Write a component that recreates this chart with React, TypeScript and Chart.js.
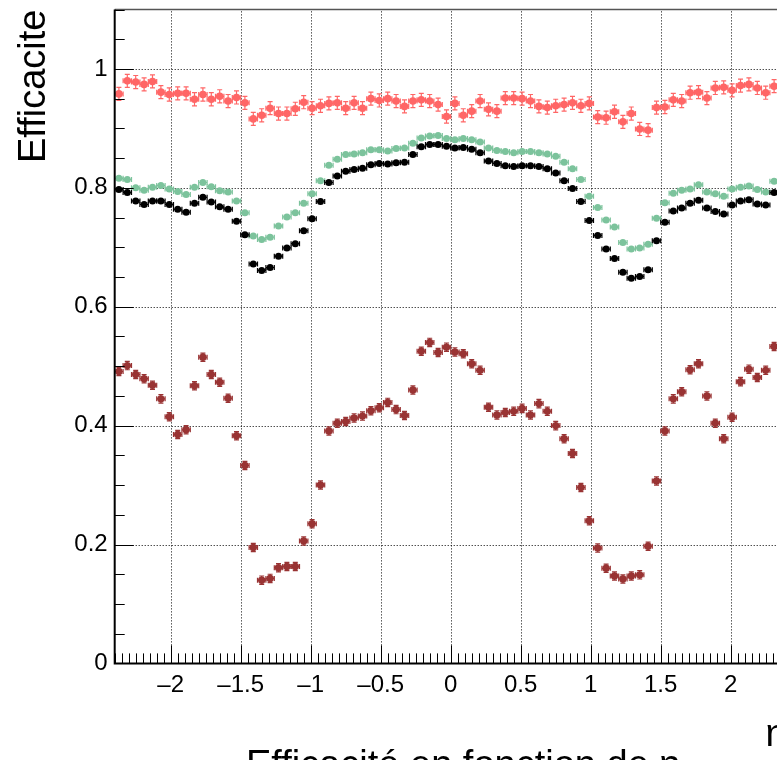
import React, { useEffect, useRef } from 'react';
import { Chart, registerables } from 'chart.js';

Chart.register(...registerables);

// ---------------- data ----------------
const etaBins = [
  -2.37, -2.31, -2.25, -2.19, -2.13, -2.07, -2.01, -1.95, -1.89, -1.83,
  -1.77, -1.71, -1.65, -1.59, -1.53, -1.47, -1.41, -1.35, -1.29, -1.23,
  -1.17, -1.11, -1.05, -0.99, -0.93, -0.87, -0.81, -0.75, -0.69, -0.63,
  -0.57, -0.51, -0.45, -0.39, -0.33, -0.27, -0.21, -0.15, -0.09, -0.03,
  0.03, 0.09, 0.15, 0.21, 0.27, 0.33, 0.39, 0.45, 0.51, 0.57,
  0.63, 0.69, 0.75, 0.81, 0.87, 0.93, 0.99, 1.05, 1.11, 1.17,
  1.23, 1.29, 1.35, 1.41, 1.47, 1.53, 1.59, 1.65, 1.71, 1.77,
  1.83, 1.89, 1.95, 2.01, 2.07, 2.13, 2.19, 2.25, 2.31, 2.37,
];
const binHalfWidth = 0.03;

const effRed = [
  0.958, 0.980, 0.978, 0.974, 0.979, 0.961, 0.957, 0.959, 0.959, 0.949,
  0.957, 0.949, 0.954, 0.946, 0.952, 0.943, 0.916, 0.922, 0.934, 0.925,
  0.925, 0.933, 0.944, 0.934, 0.938, 0.942, 0.943, 0.934, 0.943, 0.934,
  0.950, 0.947, 0.950, 0.946, 0.937, 0.946, 0.948, 0.946, 0.940, 0.920,
  0.942, 0.922, 0.929, 0.946, 0.932, 0.929, 0.951, 0.951, 0.950, 0.946,
  0.937, 0.935, 0.938, 0.940, 0.943, 0.938, 0.942, 0.919, 0.918, 0.928,
  0.911, 0.925, 0.899, 0.897, 0.935, 0.936, 0.948, 0.946, 0.960, 0.961,
  0.951, 0.968, 0.969, 0.964, 0.972, 0.974, 0.968, 0.960, 0.971, 0.966,
];
const effGreen = [
  0.816, 0.814, 0.800, 0.796, 0.801, 0.804, 0.798, 0.794, 0.789, 0.801,
  0.809, 0.802, 0.795, 0.793, 0.778, 0.758, 0.719, 0.713, 0.717, 0.736,
  0.751, 0.758, 0.774, 0.790, 0.812, 0.838, 0.848, 0.856, 0.857, 0.859,
  0.864, 0.864, 0.862, 0.866, 0.867, 0.875, 0.884, 0.887, 0.888, 0.883,
  0.881, 0.883, 0.881, 0.877, 0.867, 0.863, 0.861, 0.859, 0.861, 0.861,
  0.859, 0.857, 0.853, 0.843, 0.832, 0.814, 0.786, 0.767, 0.746, 0.734,
  0.708, 0.697, 0.699, 0.705, 0.749, 0.775, 0.791, 0.796, 0.798, 0.805,
  0.793, 0.790, 0.786, 0.798, 0.801, 0.803, 0.797, 0.793, 0.811, 0.810,
];
const effBlack = [
  0.797, 0.792, 0.778, 0.772, 0.778, 0.778, 0.772, 0.764, 0.759, 0.774,
  0.784, 0.776, 0.768, 0.764, 0.744, 0.721, 0.672, 0.661, 0.666, 0.685,
  0.699, 0.706, 0.728, 0.748, 0.777, 0.809, 0.820, 0.828, 0.831, 0.833,
  0.839, 0.841, 0.840, 0.842, 0.843, 0.856, 0.869, 0.873, 0.873, 0.870,
  0.867, 0.868, 0.865, 0.859, 0.845, 0.841, 0.837, 0.836, 0.837, 0.837,
  0.836, 0.832, 0.825, 0.812, 0.799, 0.777, 0.745, 0.720, 0.697, 0.681,
  0.658, 0.648, 0.651, 0.662, 0.711, 0.742, 0.761, 0.766, 0.774, 0.779,
  0.766, 0.760, 0.756, 0.771, 0.778, 0.780, 0.773, 0.771, 0.792, 0.790,
];
const effDarkRed = [
  0.491, 0.501, 0.486, 0.479, 0.468, 0.445, 0.415, 0.385, 0.393, 0.467,
  0.515, 0.486, 0.473, 0.446, 0.383, 0.333, 0.195, 0.140, 0.143, 0.161,
  0.163, 0.163, 0.206, 0.235, 0.300, 0.391, 0.404, 0.407, 0.413, 0.416,
  0.425, 0.430, 0.439, 0.427, 0.417, 0.460, 0.525, 0.540, 0.523, 0.532,
  0.524, 0.521, 0.504, 0.493, 0.431, 0.418, 0.422, 0.424, 0.429, 0.418,
  0.437, 0.424, 0.400, 0.378, 0.353, 0.296, 0.240, 0.194, 0.160, 0.147,
  0.142, 0.147, 0.149, 0.197, 0.307, 0.391, 0.445, 0.457, 0.494, 0.504,
  0.450, 0.404, 0.378, 0.414, 0.474, 0.495, 0.481, 0.493, 0.533, 0.520,
];
const errRed = 0.011;
const errGreen = 0.002;
const errBlack = 0.002;
const errDarkRed = 0.007;

const xTickValues = [-2, -1.5, -1, -0.5, 0, 0.5, 1, 1.5, 2];
const yTickValues = [0, 0.2, 0.4, 0.6, 0.8, 1];
const yTitle = 'Efficacite';
const xTitle = 'η';
const bottomTitle = 'Efficacité en fonction de η';

// ---------------- layout ----------------
const W = 830;
const H = 800;
const FONT = "'Liberation Sans', Arial, Helvetica, sans-serif";

const fmt = (v: number) => {
  const s = String(Math.round(Math.abs(v) * 100) / 100);
  return v < 0 ? '\u2013' + s : s;
};

const series = [
  { label: 'red', data: effRed, err: errRed, color: '#ff6666', r: 3.8 },
  { label: 'green', data: effGreen, err: errGreen, color: '#7cc39c', r: 3.5 },
  { label: 'black', data: effBlack, err: errBlack, color: '#000000', r: 3.5 },
  { label: 'darkred', data: effDarkRed, err: errDarkRed, color: '#993333', r: 3.7 },
];

const rootPlugin = {
  id: 'rootStyle',
  beforeDatasetsDraw(chart: any) {
    const { ctx, chartArea: a, scales } = chart;
    const xs = scales.x, ys = scales.y;
    ctx.save();
    ctx.strokeStyle = '#000';
    ctx.lineWidth = 1;
    ctx.setLineDash([1, 2]);
    xTickValues.forEach((v) => {
      const px = Math.round(xs.getPixelForValue(v)) + 0.5;
      ctx.beginPath();
      ctx.moveTo(px, a.bottom);
      ctx.lineTo(px, a.top);
      ctx.stroke();
    });
    yTickValues.forEach((v) => {
      if (v === 0) return;
      const py = Math.round(ys.getPixelForValue(v)) + 0.5;
      ctx.beginPath();
      ctx.moveTo(a.left, py);
      ctx.lineTo(a.right, py);
      ctx.stroke();
    });
    ctx.restore();
  },
  beforeDatasetDraw(chart: any, args: any) {
    const { ctx, scales } = chart;
    const xs = scales.x, ys = scales.y;
    const s = series[args.index];
    if (!s) return;
    ctx.save();
    ctx.strokeStyle = s.color;
    ctx.lineWidth = 1.2;
    const cap = 2.5;
    etaBins.forEach((x, i) => {
      const v = s.data[i];
      const px = xs.getPixelForValue(x);
      const py = ys.getPixelForValue(v);
      const x0 = xs.getPixelForValue(x - binHalfWidth);
      const x1 = xs.getPixelForValue(x + binHalfWidth);
      const y0 = ys.getPixelForValue(v - s.err);
      const y1 = ys.getPixelForValue(v + s.err);
      ctx.beginPath();
      ctx.moveTo(x0, py); ctx.lineTo(x1, py);
      ctx.moveTo(x0, py - cap); ctx.lineTo(x0, py + cap);
      ctx.moveTo(x1, py - cap); ctx.lineTo(x1, py + cap);
      if (Math.abs(y1 - y0) > 2 * s.r) {
        ctx.moveTo(px, y0); ctx.lineTo(px, y1);
        ctx.moveTo(px - cap, y0); ctx.lineTo(px + cap, y0);
        ctx.moveTo(px - cap, y1); ctx.lineTo(px + cap, y1);
      }
      ctx.stroke();
    });
    ctx.restore();
  },
  afterDraw(chart: any) {
    const { ctx, chartArea: a, scales } = chart;
    const xs = scales.x, ys = scales.y;
    ctx.save();
    ctx.setLineDash([]);
    // top frame
    ctx.strokeStyle = '#555';
    ctx.lineWidth = 1.5;
    ctx.beginPath();
    ctx.moveTo(a.left, a.top);
    ctx.lineTo(a.right, a.top);
    ctx.stroke();
    // ticks
    ctx.strokeStyle = '#000';
    ctx.lineWidth = 1;
    for (let k = -48; k <= 48; k++) {
      const v = k * 0.05;
      const major = k % 10 === 0;
      const px = Math.round(xs.getPixelForValue(v)) + 0.5;
      const len = major ? 18 : 10;
      ctx.beginPath();
      ctx.moveTo(px, a.bottom);
      ctx.lineTo(px, a.bottom - len);
      ctx.stroke();
    }
    for (let k = 0; k <= 22; k++) {
      const v = k * 0.05;
      const major = k % 4 === 0;
      const py = Math.round(ys.getPixelForValue(v)) + 0.5;
      const len = major ? 19 : 10;
      ctx.beginPath();
      ctx.moveTo(a.left, py);
      ctx.lineTo(a.left + len, py);
      ctx.stroke();
    }
    // axes
    ctx.lineWidth = 2;
    ctx.beginPath();
    ctx.moveTo(a.left, a.top);
    ctx.lineTo(a.left, a.bottom);
    ctx.lineTo(a.right, a.bottom);
    ctx.stroke();
    // titles
    ctx.fillStyle = '#000';
    ctx.font = `38px ${FONT}`;
    ctx.textBaseline = 'alphabetic';
    ctx.save();
    ctx.translate(45, 0);
    ctx.rotate(-Math.PI / 2);
    ctx.textAlign = 'right';
    ctx.fillText(yTitle, -a.top, 0);
    ctx.restore();
    ctx.textAlign = 'right';
    ctx.fillText(xTitle, a.right, 746);
    ctx.textAlign = 'left';
    ctx.font = `38px ${FONT}`;
    ctx.fillText(bottomTitle, 246, 777);
    ctx.restore();
  },
};

export default function App() {
  const ref = useRef<HTMLCanvasElement>(null);
  useEffect(() => {
    if (!ref.current) return;
    const chart = new Chart(ref.current, {
      type: 'scatter',
      data: {
        datasets: series.map((s, idx) => ({
          label: s.label,
          data: etaBins.map((x, i) => ({ x, y: s.data[i] })),
          backgroundColor: s.color,
          borderColor: s.color,
          borderWidth: 0,
          pointRadius: s.r,
          pointHoverRadius: s.r,
          pointStyle: 'circle',
          showLine: false,
          order: series.length - idx,
        })),
      },
      options: {
        animation: false,
        responsive: false,
        events: [],
        layout: { padding: { left: 0, right: W - 786.7, top: 9.5, bottom: 0 } },
        plugins: {
          legend: { display: false },
          title: { display: false },
          tooltip: { enabled: false },
        },
        scales: {
          x: {
            type: 'linear',
            min: -2.4,
            max: 2.4,
            afterBuildTicks: (s: any) => {
              s.ticks = xTickValues.map((v) => ({ value: v }));
            },
            afterFit: (s: any) => {
              s.height = H - 663.4;
              s.paddingLeft = 0;
              s.paddingRight = 0;
            },
            grid: { display: false, drawTicks: false },
            border: { display: false },
            ticks: {
              color: '#000',
              font: { family: FONT, size: 24 },
              padding: 8,
              maxRotation: 0,
              autoSkip: false,
              callback: (v: any) => fmt(Number(v)),
            },
          },
          y: {
            type: 'linear',
            min: 0,
            max: 1.1,
            afterBuildTicks: (s: any) => {
              s.ticks = yTickValues.map((v) => ({ value: v }));
            },
            afterFit: (s: any) => {
              s.width = 114.7;
              s.paddingTop = 0;
              s.paddingBottom = 0;
            },
            grid: { display: false, drawTicks: false },
            border: { display: false },
            ticks: {
              color: '#000',
              font: { family: FONT, size: 24 },
              padding: 7,
              autoSkip: false,
              callback: (v: any) => fmt(Number(v)),
            },
          },
        },
      },
      plugins: [rootPlugin],
    } as any);
    return () => chart.destroy();
  }, []);
  return (
    <div
      style={{
        position: 'fixed',
        left: 0,
        top: 0,
        width: 777,
        height: 760,
        overflow: 'hidden',
        background: '#fff',
      }}
    >
      <canvas ref={ref} width={W} height={H} style={{ display: 'block', width: W, height: H }} />
    </div>
  );
}
